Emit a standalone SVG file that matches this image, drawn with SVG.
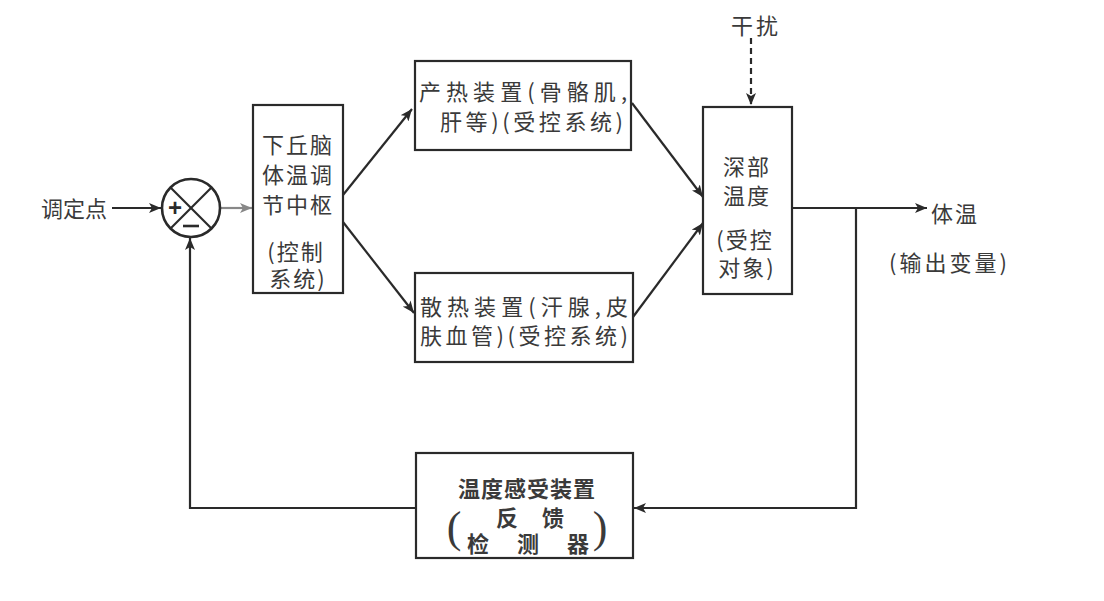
<svg xmlns="http://www.w3.org/2000/svg" width="1104" height="601" viewBox="0 0 1104 601">
<defs>
<style>
.box{fill:#fff;stroke:#2a2a2a;stroke-width:2.2}
.ln{fill:none;stroke:#2a2a2a;stroke-width:2.2}
.t{font-family:"Noto Sans CJK SC","Noto Sans CJK TC",sans-serif;font-size:22px;fill:#3a3a3a;dominant-baseline:central}
.m{text-anchor:middle}
.p{font-family:"Liberation Serif",serif;font-size:44px;fill:#3a3a3a;text-anchor:middle;dominant-baseline:central}
</style>
<marker id="ah" viewBox="0 0 12 10" refX="12" refY="5" markerWidth="12" markerHeight="10" markerUnits="userSpaceOnUse" orient="auto">
<path d="M0,0 L12,5 L0,10 L3,5 Z" fill="#2a2a2a"/>
</marker>
<marker id="ahg" viewBox="0 0 12 10" refX="12" refY="5" markerWidth="12" markerHeight="10" markerUnits="userSpaceOnUse" orient="auto">
<path d="M0,0 L12,5 L0,10 L3,5 Z" fill="#888"/>
</marker>
</defs>
<rect width="1104" height="601" fill="#fff"/>

<g id="connectors">
<line class="ln" x1="112" y1="208" x2="161" y2="208" marker-end="url(#ah)"/>
<line x1="221" y1="208" x2="252" y2="208" stroke="#888" stroke-width="2.2" marker-end="url(#ahg)"/>
<line class="ln" x1="343" y1="195" x2="412" y2="109" marker-end="url(#ah)"/>
<line class="ln" x1="343" y1="222" x2="414" y2="313" marker-end="url(#ah)"/>
<line class="ln" x1="632" y1="103" x2="703" y2="197" marker-end="url(#ah)"/>
<line class="ln" x1="633" y1="317" x2="703" y2="223" marker-end="url(#ah)"/>
<line class="ln" x1="751" y1="38" x2="751" y2="105" stroke-dasharray="6,4" marker-end="url(#ah)"/>
<line class="ln" x1="792" y1="208" x2="927" y2="208" marker-end="url(#ah)"/>
<polyline class="ln" points="856,208 856,508 634,508" marker-end="url(#ah)"/>
<polyline class="ln" points="416,508 190,508 190,238" marker-end="url(#ah)"/>
</g>

<g id="setpoint">
<text class="t" x="74" y="207" text-anchor="middle">调定点</text>
</g>

<g id="sum">
<circle cx="191" cy="208" r="29" fill="#fff" stroke="#2a2a2a" stroke-width="2.6"/>
<line class="ln" x1="170.5" y1="187.5" x2="211.5" y2="228.5"/>
<line class="ln" x1="211.5" y1="187.5" x2="170.5" y2="228.5"/>
<text x="175" y="207" font-family="Liberation Sans,sans-serif" font-size="24" font-weight="bold" fill="#2a2a2a" text-anchor="middle" dominant-baseline="central">+</text>
<line x1="183" y1="226" x2="199" y2="226" stroke="#2a2a2a" stroke-width="2.6"/>
</g>

<g id="hypothalamus">
<rect class="box" x="253" y="105" width="90" height="188"/>
<text class="t m" x="298" y="143" letter-spacing="2">下丘脑</text>
<text class="t m" x="298" y="173" letter-spacing="2">体温调</text>
<text class="t m" x="298" y="203" letter-spacing="2">节中枢</text>
<text class="t m" x="296" y="250" letter-spacing="2">(控制</text>
<text class="t m" x="298" y="277" letter-spacing="2">系统)</text>
</g>

<g id="heat-production">
<rect class="box" x="415" y="61" width="216" height="89"/>
<text class="t" x="419" y="90" textLength="208">产热装置(骨骼肌,</text>
<text class="t" x="440" y="120" textLength="183">肝等)(受控系统)</text>
</g>

<g id="heat-dissipation">
<rect class="box" x="415" y="273" width="218" height="89"/>
<text class="t" x="420" y="305" textLength="208">散热装置(汗腺,皮</text>
<text class="t" x="420" y="334" textLength="208">肤血管)(受控系统)</text>
</g>

<g id="deep-temperature">
<rect class="box" x="703" y="107" width="89" height="187"/>
<text class="t m" x="747" y="165" letter-spacing="2">深部</text>
<text class="t m" x="747" y="194" letter-spacing="2">温度</text>
<text class="t m" x="745" y="238" letter-spacing="2">(受控</text>
<text class="t m" x="747" y="266" letter-spacing="2">对象)</text>
</g>

<g id="disturbance">
<text class="t m" x="756" y="24" letter-spacing="3">干扰</text>
</g>

<g id="output">
<text class="t" x="931" y="212" letter-spacing="2">体温</text>
<text class="t" x="889" y="261" letter-spacing="3">(输出变量)</text>
</g>

<g id="feedback">
<rect class="box" x="416" y="453" width="217" height="105"/>
<text class="t m" x="527" y="487" font-weight="bold" letter-spacing="1">温度感受装置</text>
<text class="t m" x="530" y="516" font-weight="bold">反<tspan dx="24">馈</tspan></text>
<text class="t m" x="528" y="542" font-weight="bold">检<tspan dx="28">测</tspan><tspan dx="28">器</tspan></text>
<text class="p" x="454" y="527">(</text>
<text class="p" x="600" y="527">)</text>
</g>
</svg>
